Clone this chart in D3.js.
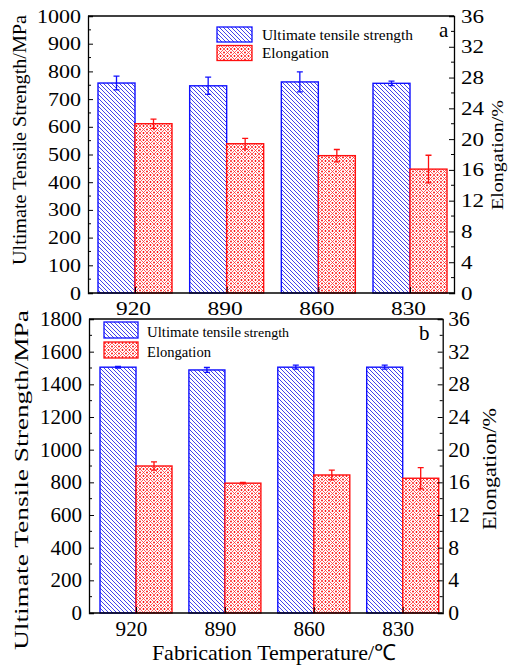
<!DOCTYPE html>
<html><head><meta charset="utf-8">
<script src="https://cdn.jsdelivr.net/npm/d3@7"></script>
<style>body{margin:0;background:#fff}svg{display:block}svg text{font-family:"Liberation Serif",serif !important;fill:#000}</style>
</head><body><svg id="c" width="508" height="668"></svg>
<script>
const temps = ["920", "890", "860", "830"];
const utsA = [758, 748, 762, 757];
const utsErrA = [25, 31, 36, 8];
const elongA = [22.0, 19.4, 17.85, 16.1];
const elongErrA = [0.6, 0.7, 0.8, 1.8];
const utsB = [1505, 1488, 1505, 1505];
const utsErrB = [5, 15, 12, 12];
const elongB = [18.0, 15.9, 16.9, 16.5];
const elongErrB = [0.5, 0.1, 0.6, 1.3];
const leftTicksA = [0,100,200,300,400,500,600,700,800,900,1000];
const leftTicksB = [0,200,400,600,800,1000,1200,1400,1600,1800];
const rightTicks = [0,4,8,12,16,20,24,28,32,36];
const seriesNames = ["Ultimate tensile strength", "Elongation"];

const SERIF = "'Liberation Serif', serif";
const svg = d3.select("#c");
const defs = svg.append("defs");
const pb = defs.append("pattern").attr("id","hb").attr("patternUnits","userSpaceOnUse").attr("width",4).attr("height",4);
pb.append("rect").attr("width",4).attr("height",4).attr("fill","#fff");
pb.append("path").attr("d","M-1,-1L5,5M-1,3L1,5M3,-1L5,1").attr("stroke","#2020e8").attr("stroke-width",0.85);
const pr = defs.append("pattern").attr("id","hr").attr("patternUnits","userSpaceOnUse").attr("width",7).attr("height",7);
pr.append("rect").attr("width",7).attr("height",7).attr("fill","#fff");
pr.append("path").attr("d","M0,0L7,7M0,7L7,0").attr("stroke","#ff3030").attr("stroke-width",0.8);
[[3.5,0],[3.5,7],[0,3.5],[7,3.5]].forEach(p=>pr.append("circle").attr("cx",p[0]).attr("cy",p[1]).attr("r",0.9).attr("fill","#f00"));

function fit(sel, per){
  sel.attr("textLength", function(){ return this.textContent.length*per; }).attr("lengthAdjust","spacingAndGlyphs");
}

function panel(o){
  const g = svg.append("g");
  const x = d3.scalePoint().domain(temps).range([o.cx0, o.cx1]);
  const yL = d3.scaleLinear().domain([0, o.lmax]).range([o.bottom, o.top]);
  const yR = d3.scaleLinear().domain([0, 36]).range([o.bottom, o.top]);
  const bw = o.bw;
  g.selectAll(".bu").data(o.uts).join("rect")
    .attr("x",(d,i)=>x(temps[i])-bw).attr("y",d=>yL(d)).attr("width",bw).attr("height",d=>o.bottom-yL(d))
    .attr("fill","url(#hb)").attr("stroke","#1010ff").attr("stroke-width",1.4);
  g.selectAll(".be").data(o.el).join("rect")
    .attr("x",(d,i)=>x(temps[i])).attr("y",d=>yR(d)).attr("width",bw).attr("height",d=>o.bottom-yR(d))
    .attr("fill","url(#hr)").attr("stroke","#ff1010").attr("stroke-width",1.4);
  function err(vals, errs, sc, dx, col){
    vals.forEach((v,i)=>{
      const cx = x(temps[i]) + dx;
      const y1 = sc(v+errs[i]), y2 = sc(v-errs[i]);
      g.append("path").attr("d",`M${cx},${y1}V${y2}M${cx-3},${y1}H${cx+3}M${cx-3},${y2}H${cx+3}`)
        .attr("stroke",col).attr("stroke-width",1.3).attr("fill","none");
    });
  }
  err(o.uts, o.utsErr, yL, -bw/2, "#1010ff");
  err(o.el, o.elErr, yR, bw/2, "#ff1010");
  g.append("path").attr("d",`M${o.left},${o.top}H${o.right}`).attr("stroke","#000").attr("stroke-width",1.3);
  const la = g.append("g").attr("transform",`translate(${o.left},0)`)
    .call(d3.axisLeft(yL).tickValues(o.lticks).tickSize(-5).tickPadding(7).tickFormat(d3.format("d")));
  la.selectAll(".tick text").attr("font-size",o.fs).call(fit, o.lper);
  const lminor = d3.range(0, o.lmax, o.lticks[1]/2).filter(v=>!o.lticks.includes(v));
  la.selectAll(".mn").data(lminor).join("line").attr("x1",0).attr("x2",3).attr("y1",d=>yL(d)).attr("y2",d=>yL(d)).attr("stroke","#000");
  const ra = g.append("g").attr("transform",`translate(${o.right},0)`)
    .call(d3.axisRight(yR).tickValues(rightTicks).tickSize(-5).tickPadding(o.rpad));
  ra.selectAll(".tick text").attr("font-size",o.fs).call(fit, o.rper);
  const rminor = d3.range(2, 36, 4);
  ra.selectAll(".mn").data(rminor).join("line").attr("x1",0).attr("x2",-3).attr("y1",d=>yR(d)).attr("y2",d=>yR(d)).attr("stroke","#000");
  const ba = g.append("g").attr("transform",`translate(0,${o.bottom})`)
    .call(d3.axisBottom(x).tickSize(-6).tickSizeOuter(0));
  ba.select(".domain").attr("d",`M${o.left},0H${o.right}`);
  ba.selectAll(".tick text").attr("font-size",o.fs).attr("dx",o.xdx).attr("y",o.xby).attr("dy",0).call(fit, o.xper);
  [la,ra,ba].forEach(a=>{a.attr("font-family",SERIF);a.selectAll("path.domain").attr("stroke-width",1.3);a.selectAll("text").attr("fill","#000");});
  g.append("text").attr("transform",`translate(${o.ltx},${o.lty}) rotate(-90)`).attr("text-anchor","middle")
    .attr("font-size",o.ltfs).attr("textLength",o.ltl).attr("lengthAdjust","spacingAndGlyphs").text("Ultimate Tensile Strength/MPa");
  g.append("text").attr("transform",`translate(${o.rtx},${o.rty}) rotate(-90)`).attr("text-anchor","middle")
    .attr("font-size",o.rtfs).attr("textLength",o.rtl).attr("lengthAdjust","spacingAndGlyphs").text("Elongation/%");
  g.append("text").attr("x",o.lbx).attr("y",o.lby).attr("font-size",o.lbfs).text(o.letter);
  const sw = [["url(#hb)","#1010ff"],["url(#hr)","#ff1010"]];
  sw.forEach((s,i)=>{
    g.append("rect").attr("x",o.legx).attr("y",o.legy+i*o.legdy).attr("width",o.legw).attr("height",o.legh)
      .attr("fill",s[0]).attr("stroke",s[1]).attr("stroke-width",1.3);
  });
  return g;
}

const gA = panel({left:88,right:454,top:16,bottom:293,cx0:135,cx1:410,bw:37,lmax:1000,lticks:leftTicksA,
  uts:utsA,utsErr:utsErrA,el:elongA,elErr:elongErrA,fs:19,lper:11,rper:11.5,xper:11.7,rpad:7,xby:22,xdx:-2,
  ltx:26,lty:140,ltfs:18,ltl:250,rtx:503,rty:155,rtfs:17,rtl:110,
  letter:"a",lbx:439,lby:37,lbfs:21,legx:217,legy:27,legdy:18.5,legw:35,legh:15});
gA.append("text").attr("x",262).attr("y",40).attr("font-size",15).attr("textLength",151).attr("lengthAdjust","spacingAndGlyphs").text(seriesNames[0]);
gA.append("text").attr("x",262).attr("y",58.3).attr("font-size",15).attr("textLength",67).attr("lengthAdjust","spacingAndGlyphs").text(seriesNames[1]);

const gB = panel({left:89,right:442.7,top:319,bottom:613,cx0:136,cx1:402.7,bw:36,lmax:1800,lticks:leftTicksB,
  uts:utsB,utsErr:utsErrB,el:elongB,elErr:elongErrB,fs:20,lper:10.5,rper:10.8,xper:10.6,rpad:5.5,xby:23,xdx:-5,
  ltx:28,lty:480,ltfs:19,ltl:340,rtx:496,rty:469,rtfs:18,rtl:122,
  letter:"b",lbx:419,lby:340,lbfs:21,legx:104,legy:322,legdy:20,legw:34,legh:16});
gB.append("text").attr("x",147).attr("y",336.7).attr("font-size",15).attr("textLength",94).attr("lengthAdjust","spacingAndGlyphs").text("Ultimate tensile");
gB.append("text").attr("x",244).attr("y",336.7).attr("font-size",13).attr("textLength",45).attr("lengthAdjust","spacingAndGlyphs").text("strength");
gB.append("text").attr("x",147).attr("y",356.7).attr("font-size",15).attr("textLength",64).attr("lengthAdjust","spacingAndGlyphs").text(seriesNames[1]);
svg.append("text").attr("x",274).attr("y",660).attr("text-anchor","middle").attr("font-size",22).text("Fabrication Temperature/\u2103");
svg.selectAll("text").style("font-family",SERIF);
</script></body></html>
